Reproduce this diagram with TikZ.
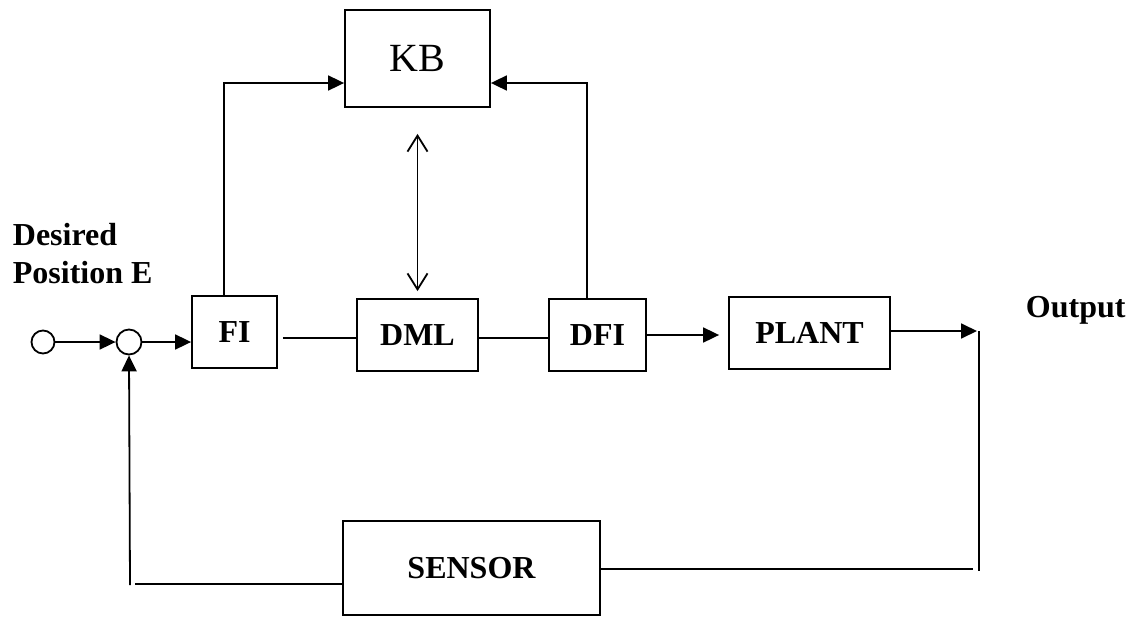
\documentclass[tikz,border=0pt]{standalone}
\usepackage{fontspec}
\setmainfont{Liberation Serif}
\usetikzlibrary{arrows.meta,calc}
\begin{document}
\begin{tikzpicture}[x=1pt,y=-1pt,
  line width=1.8pt,
  blk/.style={draw,line width=1.8pt,inner sep=0pt,font=\fontsize{32}{36}\selectfont\bfseries},
  circ/.style={draw,circle,line width=1.8pt,inner sep=0pt},
  fa/.style={-{Triangle[length=16pt,width=15pt]}},
  oa/.style={{Straight Barb[length=16pt,width=20pt,line width=1.8pt]}-{Straight Barb[length=16pt,width=20pt,line width=1.8pt]}},
  lbl/.style={font=\fontsize{32}{38}\selectfont\bfseries,inner sep=0pt}
]
\useasboundingbox (0,0) rectangle (1131,616);

\node[blk,minimum width=145pt,minimum height=97pt,font=\fontsize{40}{44}\selectfont] (KB) at (417.5,58.5) {KB};
\node[blk,minimum width=85pt,minimum height=72pt] (FI) at (234.5,332) {FI};
\node[blk,minimum width=121pt,minimum height=72pt] (DML) at (417.5,335) {DML};
\node[blk,minimum width=97pt,minimum height=72pt] (DFI) at (597.5,335) {DFI};
\node[blk,minimum width=161pt,minimum height=72pt] (PLANT) at (809.5,333) {PLANT};
\node[blk,minimum width=257pt,minimum height=94pt] (SENSOR) at (471.5,568) {SENSOR};

\node[circ,minimum size=23pt] (in) at (43,342) {};
\node[circ,minimum size=25pt] (sum) at (129,342) {};

\node[lbl,align=left,anchor=north west] (des) at (12,222) {Desired\\Position E};
\node[lbl,anchor=base west] (out) at (1025,317) {Output};

\coordinate (fiup) at (224,83);
\coordinate (dfiup) at (587,83);
\coordinate (o1) at (977,331);
\coordinate (o2) at (979,331);
\coordinate (o3) at (979,571);
\coordinate (o4) at (973,569);
\coordinate (f1) at (135,584);
\coordinate (f2) at (130,585);

% forward path
\draw[fa] (in.east) -- (sum.west);
\draw[fa] (sum.east) -- (sum.east -| FI.west);
\draw[shorten <=5pt] (FI.east |- 0,338) -- (DML.west |- 0,338);
\draw (DML.east |- 0,338) -- (DFI.west |- 0,338);
\draw[fa,shorten >=9pt] (DFI.east |- 0,335) -- (PLANT.west |- 0,335);
\draw[fa] (PLANT.east |- o1) -- (o1);

% KB links
\draw[fa] (FI.north -| fiup) -- (fiup) -- (KB.west |- fiup);
\draw[fa] (DFI.north -| dfiup) -- (dfiup) -- (KB.east |- dfiup);
\draw[oa,shorten <=26pt,shorten >=7pt] (KB.south) -- (DML.north);

% feedback
\draw (o2) -- (o3);
\draw (SENSOR.east |- o4) -- (o4);
\draw (SENSOR.west |- f1) -- (f1);
\draw[fa] (f2) -- (sum.south);
\end{tikzpicture}
\end{document}
